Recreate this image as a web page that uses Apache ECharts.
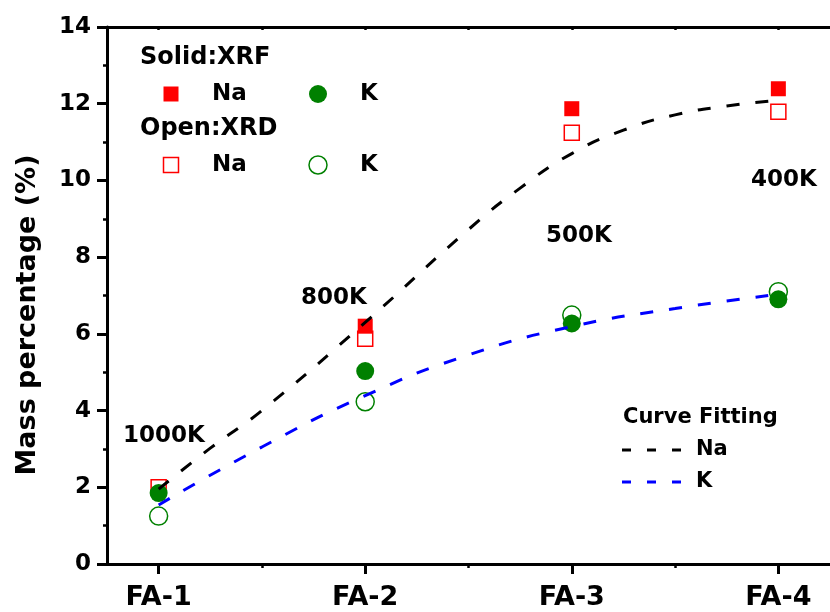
<!DOCTYPE html>
<html>
<head>
<meta charset="utf-8">
<script src="https://cdn.jsdelivr.net/npm/echarts@6/dist/echarts.min.js"></script>
<style>
  html, body { margin: 0; padding: 0; background: #fff; }
  #chart { width: 830px; height: 612px; }
</style>
</head>
<body>
<div id="chart"></div>
<script>
// Samples and their measured Na / K contents (mass %)
const categories = ['FA-1', 'FA-2', 'FA-3', 'FA-4'];
const naXRF = [null, 6.20, 11.87, 12.39];
const kXRF  = [1.85, 5.03, 6.27, 6.90];
const naXRD = [2.00, 5.87, 11.24, 11.79];
const kXRD  = [1.25, 4.23, 6.49, 7.10];

// Fitted trend curves (sample position, mass %)
const naFitX = [1, 1.25, 1.5, 2, 2.5, 2.75, 3, 3.25, 3.5, 3.75, 4];
const naFit  = [1.95, 3.02, 4.00, 6.30, 8.72, 9.80, 10.70, 11.31, 11.71, 11.94, 12.09];
const kFitX  = [1, 1.5, 2, 2.5, 3, 3.5, 4];
const kFit   = [1.54, 3.05, 4.39, 5.45, 6.19, 6.66, 7.03];

// Treatment temperatures written next to each sample
const tempLabels = ['1000K', '800K', '500K', '400K'];

const FONT = 'DejaVu Sans';
const pairs = (vals) => vals.map((v, i) => [i + 1, v]);
const zipXY = (xs, ys) => ys.map((v, i) => [xs[i], v]);

const chart = echarts.init(document.getElementById('chart'), null, { renderer: 'canvas' });

const axisLine = { show: true, lineStyle: { color: '#000', width: 3 } };
const xRange = { type: 'value', min: 0.75, max: 4.25, splitLine: { show: false } };

function text(str, x, y, size, extra) {
  return Object.assign({
    type: 'text', x: x, y: y, silent: true,
    style: {
      text: str, fill: '#000',
      font: 'bold ' + size + 'px "' + FONT + '"',
      align: 'left', verticalAlign: 'middle'
    }
  }, extra || {});
}
function square(cx, cy, filled) {
  return {
    type: 'rect', silent: true,
    shape: { x: cx - 7.5, y: cy - 7.5, width: 15, height: 15 },
    style: filled ? { fill: '#ff0000' } : { fill: 'none', stroke: '#ff0000', lineWidth: 1.5 }
  };
}
function dot(cx, cy, filled) {
  return {
    type: 'circle', silent: true,
    shape: { cx: cx, cy: cy, r: 9 },
    style: filled ? { fill: '#008000' } : { fill: 'none', stroke: '#008000', lineWidth: 1.5 }
  };
}
function dashSample(x1, x2, y, color) {
  return {
    type: 'line', silent: true,
    shape: { x1: x1, y1: y, x2: x2, y2: y },
    style: { stroke: color, lineWidth: 3, lineDash: [9, 16] }
  };
}

const option = {
  animation: false,
  backgroundColor: '#fff',
  grid: { left: 107, top: 27, bottom: 48, right: -2, containLabel: false },
  xAxis: [
    Object.assign({}, xRange, {
      position: 'bottom',
      axisLine: axisLine,
      axisTick: { show: true, inside: false, length: 10, customValues: [1, 2, 3, 4],
                  lineStyle: { color: '#000', width: 3 } },
      axisLabel: { show: true, customValues: [1, 2, 3, 4], margin: 20,
                   formatter: (v) => categories[Math.round(v) - 1] || '',
                   color: '#000', fontSize: 27, fontWeight: 'bold', fontFamily: FONT }
    }),
    Object.assign({}, xRange, {
      position: 'bottom',
      axisLine: { show: false },
      axisTick: { show: true, inside: false, length: 4, customValues: [1.5, 2.5, 3.5],
                  lineStyle: { color: '#000', width: 2.5 } },
      axisLabel: { show: false }
    }),
    Object.assign({}, xRange, {
      position: 'top',
      axisLine: axisLine,
      axisTick: { show: true, inside: true, length: 3, customValues: [1, 1.5, 2, 2.5, 3, 3.5, 4],
                  lineStyle: { color: '#000', width: 2.5 } },
      axisLabel: { show: false }
    })
  ],
  yAxis: {
    type: 'value', min: 0, max: 14, interval: 2, position: 'left',
    axisLine: axisLine,
    axisTick: { show: true, inside: false, length: 10, lineStyle: { color: '#000', width: 3 } },
    minorTick: { show: true, splitNumber: 2, length: 4, lineStyle: { color: '#000', width: 2.5 } },
    splitLine: { show: false },
    axisLabel: { margin: 16, color: '#000', fontSize: 23, fontWeight: 'bold', fontFamily: FONT }
  },
  series: [
    { name: 'Na XRD', type: 'scatter', xAxisIndex: 0, data: pairs(naXRD),
      symbol: 'rect', symbolSize: 15,
      itemStyle: { color: 'rgba(255,255,255,0)', borderColor: '#ff0000', borderWidth: 1.5, opacity: 1 } },
    { name: 'K XRD', type: 'scatter', xAxisIndex: 0, data: pairs(kXRD),
      symbol: 'circle', symbolSize: 18,
      itemStyle: { color: 'rgba(255,255,255,0)', borderColor: '#008000', borderWidth: 1.5, opacity: 1 } },
    { name: 'Na XRF', type: 'scatter', xAxisIndex: 0, data: pairs(naXRF),
      symbol: 'rect', symbolSize: 15, itemStyle: { color: '#ff0000', opacity: 1 } },
    { name: 'K XRF', type: 'scatter', xAxisIndex: 0, data: pairs(kXRF),
      symbol: 'circle', symbolSize: 18, itemStyle: { color: '#008000', opacity: 1 } },
    { name: 'Na fit', type: 'line', xAxisIndex: 0, data: zipXY(naFitX, naFit),
      smooth: 0.5, showSymbol: false, symbol: 'none',
      lineStyle: { color: '#000', width: 3, type: [13, 16] } },
    { name: 'K fit', type: 'line', xAxisIndex: 0, data: zipXY(kFitX, kFit),
      smooth: 0.5, showSymbol: false, symbol: 'none',
      lineStyle: { color: '#0000ff', width: 3, type: [13, 16] } }
  ],
  graphic: [
    text('Mass percentage (%)', 28, 315, 27, { rotation: Math.PI / 2,
      style: { text: 'Mass percentage (%)', fill: '#000', font: 'bold 27px "' + FONT + '"',
               align: 'center', verticalAlign: 'middle' } }),
    // symbol key
    text('Solid:XRF', 140, 58, 24),
    square(171, 94, true), text('Na', 212, 94, 23),
    dot(318, 94, true), text('K', 360, 94, 23),
    text('Open:XRD', 140, 129, 24),
    square(171, 165, false), text('Na', 212, 165, 23),
    dot(318, 165, false), text('K', 360, 165, 23),
    // fit key
    text('Curve Fitting', 623, 418, 21),
    dashSample(622, 682, 450, '#000'), text('Na', 696, 450, 21),
    dashSample(622, 682, 482, '#0000ff'), text('K', 696, 482, 21),
    // temperatures
    text(tempLabels[0], 123, 436, 23),
    text(tempLabels[1], 301, 298, 23),
    text(tempLabels[2], 546, 236, 23),
    text(tempLabels[3], 751, 180, 23)
  ]
};

chart.setOption(option);
</script>
</body>
</html>
